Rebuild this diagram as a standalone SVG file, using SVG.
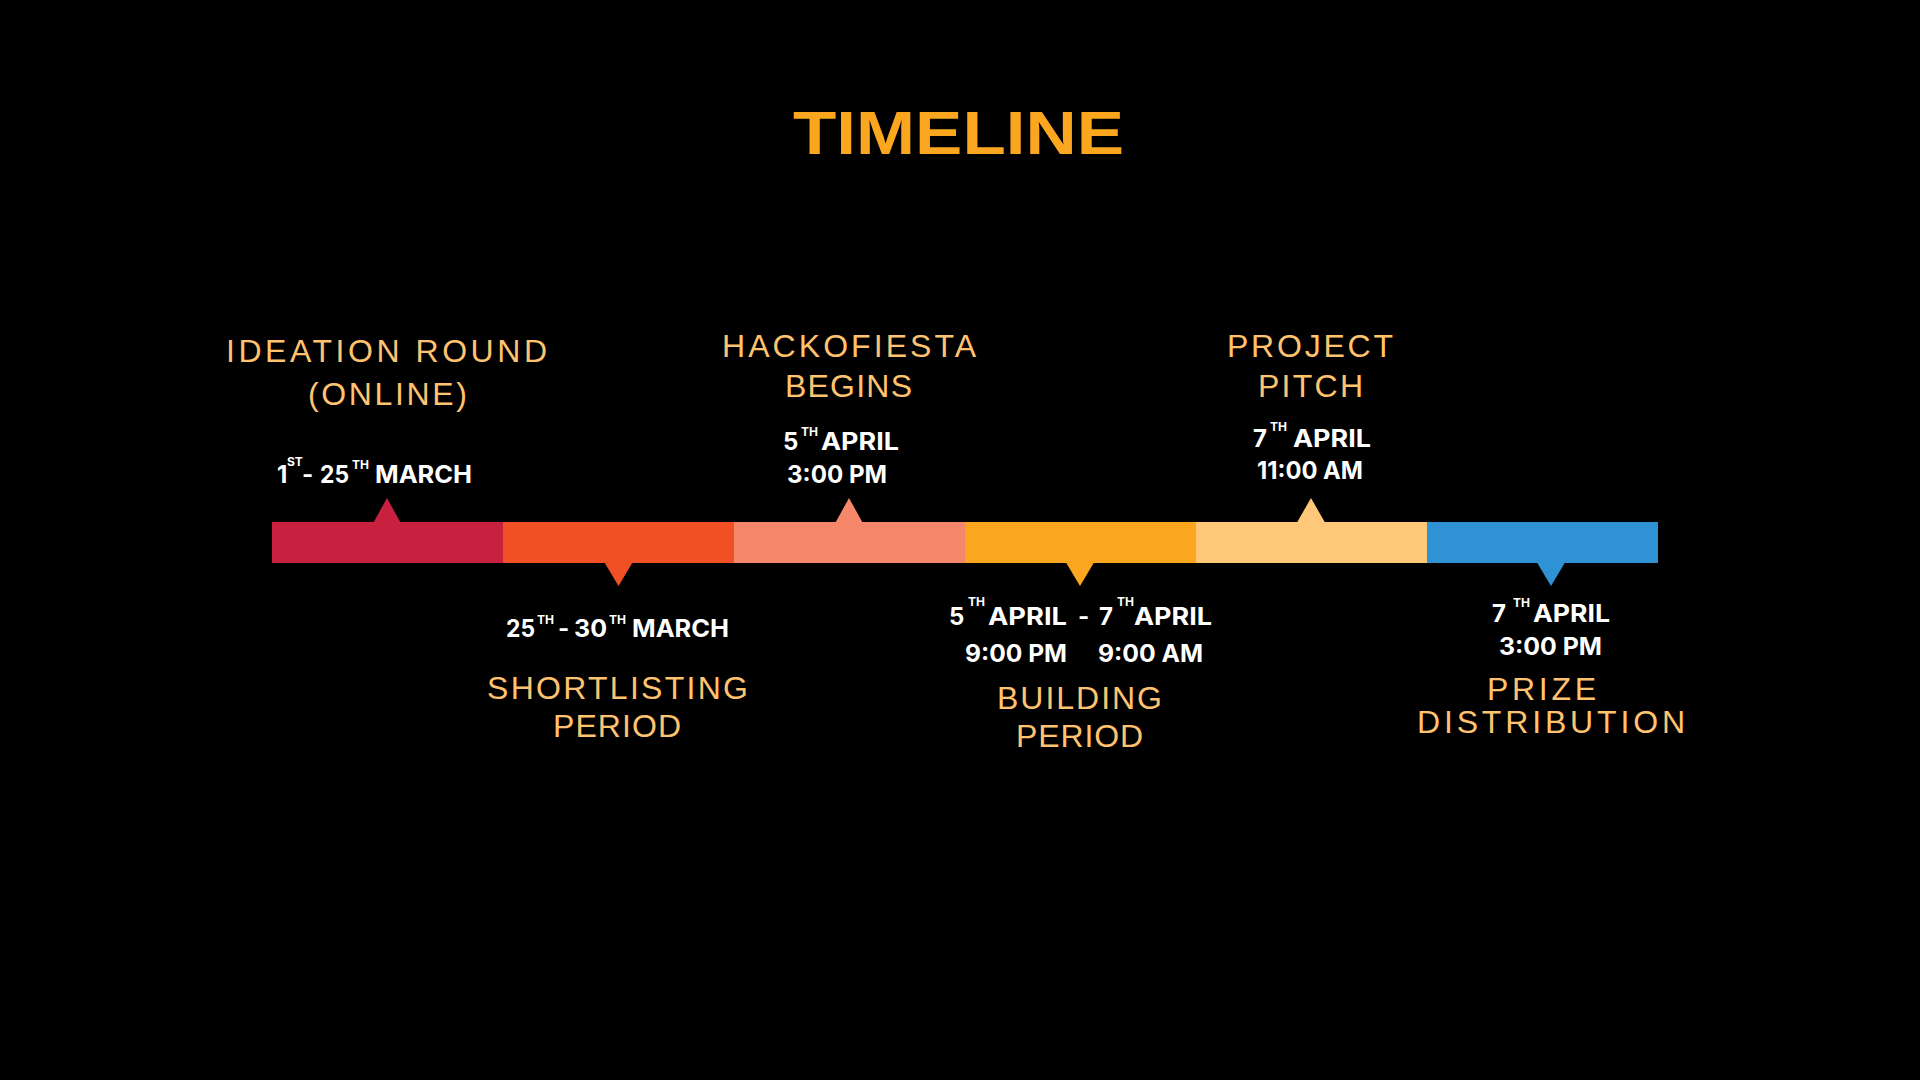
<svg xmlns="http://www.w3.org/2000/svg" width="1920" height="1080" viewBox="0 0 1920 1080">
<style>
.title{font-family:"Liberation Sans","DejaVu Sans",sans-serif;font-weight:700;font-size:62px;fill:#FBA61F}
.hd{font-family:"Liberation Sans","DejaVu Sans",sans-serif;font-weight:400;font-size:32px;fill:#FFC370}
.dt{font-family:Inter,"Open Sans",sans-serif;font-weight:700;font-size:24px;fill:#FFFFFF}
.sup{font-family:Inter,"Open Sans",sans-serif;font-weight:700;font-size:12px;fill:#FFFFFF}
</style>
<rect x="0" y="0" width="1920" height="1080" fill="#000000"/>
<text class="title" x="793" y="154" textLength="331" lengthAdjust="spacingAndGlyphs">TIMELINE</text>

<g id="timeline-bar">
<rect x="272" y="522" width="231" height="41" fill="#C8203F"/>
<rect x="503" y="522" width="231" height="41" fill="#F15025"/>
<rect x="734" y="522" width="231" height="41" fill="#F7876B"/>
<rect x="965" y="522" width="231" height="41" fill="#FBA61F"/>
<rect x="1196" y="522" width="231" height="41" fill="#FFC878"/>
<rect x="1427" y="522" width="231" height="41" fill="#2E92D5"/>
</g>

<g id="connectors">
<polygon points="373.5,522.5 387,498 400.5,522.5" fill="#C8203F"/>
<polygon points="604.5,562.5 618.5,586 632.5,562.5" fill="#F15025"/>
<polygon points="835.5,522.5 849,498 862.5,522.5" fill="#F7876B"/>
<polygon points="1066,562.5 1080,586 1094,562.5" fill="#FBA61F"/>
<polygon points="1297,522.5 1311,498 1325,522.5" fill="#FFC878"/>
<polygon points="1537,562.5 1551,586 1565,562.5" fill="#2E92D5"/>
</g>

<g id="node-ideation">
<text class="hd" x="226" y="362" textLength="321" lengthAdjust="spacing">IDEATION ROUND</text>
<text class="hd" x="308" y="405" textLength="159" lengthAdjust="spacing">(ONLINE)</text>
<text class="dt" x="277" y="483">1</text>
<text class="sup" x="287" y="466">ST</text>
<text class="dt" x="302" y="483">-</text>
<text class="dt" x="320" y="483" textLength="29" lengthAdjust="spacingAndGlyphs">25</text>
<text class="sup" x="352" y="469">TH</text>
<text class="dt" x="375" y="483" textLength="97" lengthAdjust="spacingAndGlyphs">MARCH</text>
</g>

<g id="node-shortlisting">
<text class="dt" x="506" y="637" textLength="29" lengthAdjust="spacingAndGlyphs">25</text>
<text class="sup" x="537" y="624">TH</text>
<text class="dt" x="558" y="637">-</text>
<text class="dt" x="574" y="637" textLength="33" lengthAdjust="spacingAndGlyphs">30</text>
<text class="sup" x="609" y="624">TH</text>
<text class="dt" x="632" y="637" textLength="97" lengthAdjust="spacingAndGlyphs">MARCH</text>
<text class="hd" x="487" y="699" textLength="261" lengthAdjust="spacing">SHORTLISTING</text>
<text class="hd" x="553" y="737" textLength="128" lengthAdjust="spacing">PERIOD</text>
</g>

<g id="node-hackofiesta">
<text class="hd" x="722" y="357" textLength="254" lengthAdjust="spacing">HACKOFIESTA</text>
<text class="hd" x="785" y="397" textLength="127" lengthAdjust="spacing">BEGINS</text>
<text class="dt" x="783" y="450">5</text>
<text class="sup" x="801" y="436">TH</text>
<text class="dt" x="821" y="450" textLength="78" lengthAdjust="spacingAndGlyphs">APRIL</text>
<text class="dt" x="787" y="483" textLength="100" lengthAdjust="spacingAndGlyphs">3:00 PM</text>
</g>

<g id="node-building">
<text class="dt" x="949" y="625">5</text>
<text class="sup" x="968" y="606">TH</text>
<text class="dt" x="988" y="625" textLength="79" lengthAdjust="spacingAndGlyphs">APRIL</text>
<text class="dt" x="1078" y="625">-</text>
<text class="dt" x="1099" y="625">7</text>
<text class="sup" x="1117" y="606">TH</text>
<text class="dt" x="1134" y="625" textLength="78" lengthAdjust="spacingAndGlyphs">APRIL</text>
<text class="dt" x="965" y="662" textLength="102" lengthAdjust="spacingAndGlyphs">9:00 PM</text>
<text class="dt" x="1098" y="662" textLength="105" lengthAdjust="spacingAndGlyphs">9:00 AM</text>
<text class="hd" x="997" y="709" textLength="165" lengthAdjust="spacing">BUILDING</text>
<text class="hd" x="1016" y="747" textLength="127" lengthAdjust="spacing">PERIOD</text>
</g>

<g id="node-pitch">
<text class="hd" x="1227" y="357" textLength="166" lengthAdjust="spacing">PROJECT</text>
<text class="hd" x="1258" y="397" textLength="105" lengthAdjust="spacing">PITCH</text>
<text class="dt" x="1253" y="447">7</text>
<text class="sup" x="1270" y="431">TH</text>
<text class="dt" x="1293" y="447" textLength="78" lengthAdjust="spacingAndGlyphs">APRIL</text>
<text class="dt" x="1257" y="479" textLength="106" lengthAdjust="spacingAndGlyphs">11:00 AM</text>
</g>

<g id="node-prize">
<text class="dt" x="1492" y="622">7</text>
<text class="sup" x="1513" y="607">TH</text>
<text class="dt" x="1533" y="622" textLength="77" lengthAdjust="spacingAndGlyphs">APRIL</text>
<text class="dt" x="1499" y="655" textLength="103" lengthAdjust="spacingAndGlyphs">3:00 PM</text>
<text class="hd" x="1487" y="700" textLength="109" lengthAdjust="spacing">PRIZE</text>
<text class="hd" x="1417" y="733" textLength="268" lengthAdjust="spacing">DISTRIBUTION</text>
</g>
</svg>
